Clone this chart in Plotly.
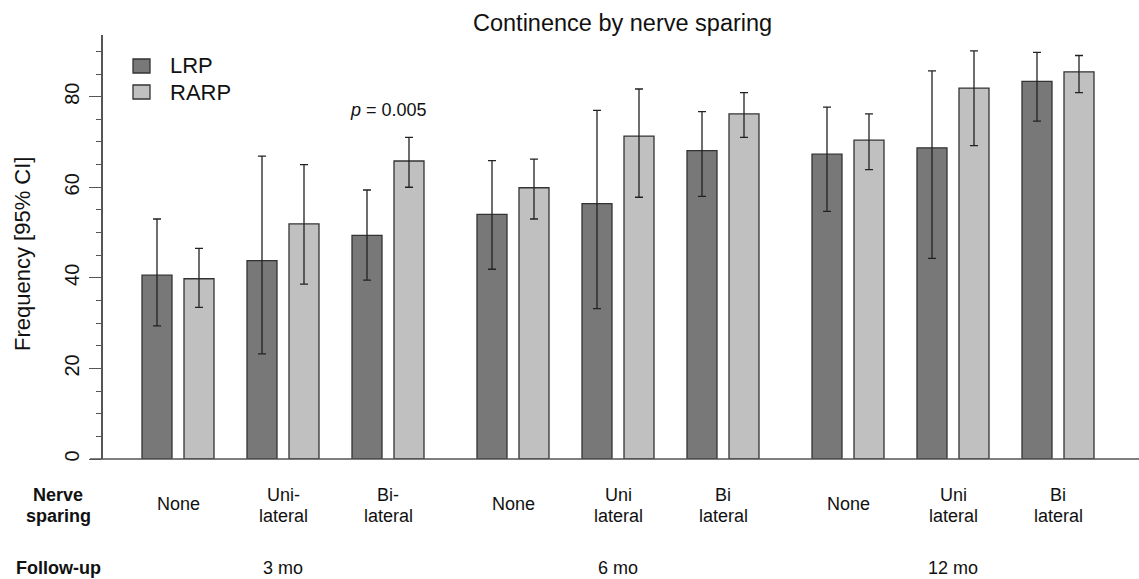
import plotly.graph_objects as go

# ---------------- data ----------------
followups = ["3 mo", "6 mo", "12 mo"]
nerve_labels = [["None"], ["Uni-", "lateral"], ["Bi-", "lateral"],
                ["None"], ["Uni", "lateral"], ["Bi", "lateral"],
                ["None"], ["Uni", "lateral"], ["Bi", "lateral"]]
lrp_val = [40.6, 43.8, 49.4, 54.0, 56.4, 68.1, 67.3, 68.7, 83.4]
lrp_hi = [53.0, 66.9, 59.4, 65.9, 77.0, 76.7, 77.7, 85.7, 89.8]
lrp_lo = [29.4, 23.2, 39.5, 41.9, 33.2, 58.0, 54.7, 44.3, 74.6]
rarp_val = [39.8, 51.9, 65.8, 59.9, 71.3, 76.2, 70.4, 81.9, 85.5]
rarp_hi = [46.5, 65.0, 71.0, 66.2, 81.7, 80.9, 76.2, 90.1, 89.1]
rarp_lo = [33.5, 38.6, 60.0, 53.0, 57.8, 71.0, 63.9, 69.2, 80.9]
series_names = ["LRP", "RARP"]
p_label = "<i>p</i> = 0.005"
p_pair = 2

# ---------------- layout geometry (pixels) ----------------
W, H = 1139, 579
L, R, T, B = 103, 0, 35, 120
PW, PH = W - L - R, H - T - B
Y_PER_PX = 80 / (459 - 96.7)
YMAX = PH * Y_PER_PX

FONT = "Liberation Sans, Arial, Helvetica, sans-serif"
DARK = "#787878"
LIGHT = "#c0c0c0"
EDGE = "#333333"

def px_x(px):
    return (px - L) / PW

def px_y(py):
    return (H - B - py) / PH

n_pairs = len(lrp_val)
pair_center = [75 + 105 * i + 20 * (i // 3) for i in range(n_pairs)]
lrp_x = [c - 21 for c in pair_center]
rarp_x = [c + 21 for c in pair_center]

fig = go.Figure()
for name, xs, vals, hi, lo, col in [
    (series_names[0], lrp_x, lrp_val, lrp_hi, lrp_lo, DARK),
    (series_names[1], rarp_x, rarp_val, rarp_hi, rarp_lo, LIGHT),
]:
    fig.add_trace(go.Bar(
        name=name, x=xs, y=vals, width=30,
        marker=dict(color=col, line=dict(color=EDGE, width=1.3)),
        error_y=dict(type="data", symmetric=False,
                     array=[h - v for h, v in zip(hi, vals)],
                     arrayminus=[v - l for v, l in zip(vals, lo)],
                     color="#222222", thickness=1.3, width=4),
        showlegend=False,
    ))

annotations = []
# title
annotations.append(dict(text="Continence by nerve sparing", x=px_x(622), y=px_y(23),
                        xref="paper", yref="paper", showarrow=False,
                        xanchor="center", yanchor="middle",
                        font=dict(family=FONT, size=23.5, color="#111")))
# y title
annotations.append(dict(text="Frequency [95% CI]", x=px_x(22), y=px_y(254),
                        xref="paper", yref="paper", showarrow=False, textangle=-90,
                        xanchor="center", yanchor="middle",
                        font=dict(family=FONT, size=22, color="#111")))
# p value
annotations.append(dict(text=p_label, x=pair_center[p_pair], y=px_y(110),
                        xref="x", yref="paper", showarrow=False,
                        xanchor="center", yanchor="middle",
                        font=dict(family=FONT, size=18, color="#111")))
# row headers
for txt, py in [("Nerve", 495), ("sparing", 516), ("Follow-up", 568)]:
    annotations.append(dict(text="<b>" + txt + "</b>", x=px_x(58), y=px_y(py),
                            xref="paper", yref="paper", showarrow=False,
                            xanchor="center", yanchor="middle",
                            font=dict(family=FONT, size=18, color="#111")))
# nerve sparing labels
for i, lines in enumerate(nerve_labels):
    pys = [504] if len(lines) == 1 else [495, 516]
    for txt, py in zip(lines, pys):
        annotations.append(dict(text=txt, x=pair_center[i], y=px_y(py),
                                xref="x", yref="paper", showarrow=False,
                                xanchor="center", yanchor="middle",
                                font=dict(family=FONT, size=18, color="#111")))
# follow-up labels
for g, txt in enumerate(followups):
    annotations.append(dict(text=txt, x=pair_center[3 * g + 1], y=px_y(568),
                            xref="x", yref="paper", showarrow=False,
                            xanchor="center", yanchor="middle",
                            font=dict(family=FONT, size=18, color="#111")))
# legend
shapes = []
for k, (name, col, py) in enumerate([(series_names[0], DARK, 66), (series_names[1], LIGHT, 92)]):
    shapes.append(dict(type="rect", xref="paper", yref="paper",
                       x0=px_x(133), x1=px_x(150), y0=px_y(py + 7), y1=px_y(py - 7),
                       fillcolor=col, line=dict(color=EDGE, width=1.3)))
    annotations.append(dict(text=name, x=px_x(168), y=px_y(py),
                            xref="paper", yref="paper", showarrow=False,
                            xanchor="left", yanchor="middle",
                            font=dict(family=FONT, size=22, color="#111")))
# baseline
shapes.append(dict(type="line", xref="paper", yref="paper",
                   x0=px_x(90), x1=1, y0=0, y1=0,
                   line=dict(color="#555555", width=1.5)))

fig.update_layout(
    width=W, height=H,
    margin=dict(l=L, r=R, t=T, b=B, pad=0),
    paper_bgcolor="white", plot_bgcolor="white",
    barmode="overlay",
    xaxis=dict(range=[0, PW], visible=False, fixedrange=True),
    yaxis=dict(range=[0, YMAX], dtick=20, tick0=0, showgrid=False, zeroline=False,
               showline=True, linecolor="#555555", linewidth=1.5,
               ticks="outside", ticklen=12, tickwidth=1.3, tickcolor="#555555",
               tickangle=-90, ticklabelstandoff=2, fixedrange=True,
               tickfont=dict(family=FONT, size=20, color="#111"),
               minor=dict(dtick=5, tick0=0, ticks="outside", ticklen=5,
                          tickwidth=1.2, tickcolor="#555555", showgrid=False)),
    annotations=annotations,
    shapes=shapes,
)

fig.write_html("out.html",
               config={"displayModeBar": False},
               post_script="document.body.style.margin='0px';document.body.style.overflow='hidden';")
